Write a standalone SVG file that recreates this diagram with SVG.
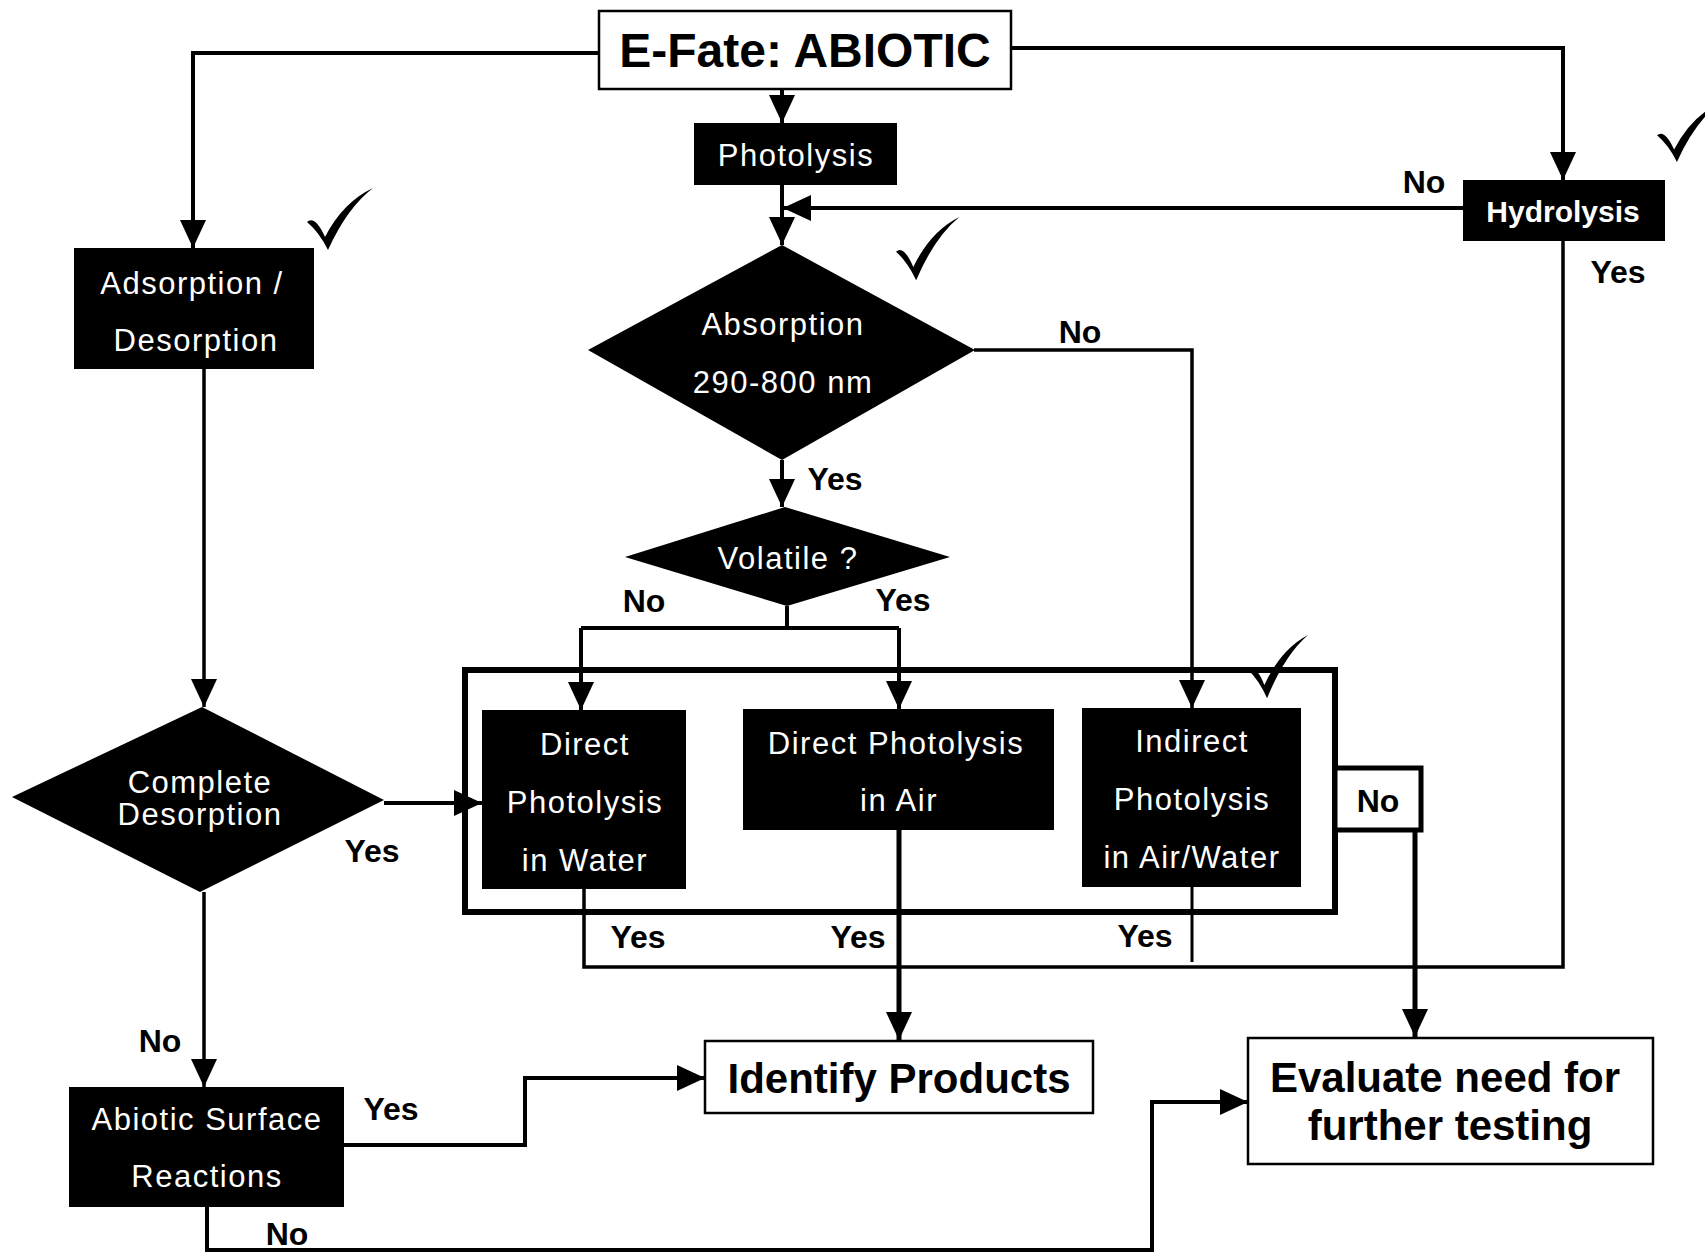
<svg xmlns="http://www.w3.org/2000/svg" xmlns:xlink="http://www.w3.org/1999/xlink" width="1705" height="1254" viewBox="0 0 1705 1254">
<style>
.w{font-family:"Liberation Sans",Arial,sans-serif;font-size:31px;fill:#fff;text-anchor:middle;letter-spacing:1.5px}
.wb{font-family:"Liberation Sans",Arial,sans-serif;font-size:30px;font-weight:bold;fill:#fff;text-anchor:middle}
.lbl{font-family:"Liberation Sans",Arial,sans-serif;font-size:32px;font-weight:bold;fill:#000;text-anchor:middle}
.big{font-family:"Liberation Sans",Arial,sans-serif;font-size:48px;font-weight:bold;fill:#000;text-anchor:middle}
.big2{font-family:"Liberation Sans",Arial,sans-serif;font-size:42px;font-weight:bold;fill:#000;text-anchor:middle}
.blk{fill:#000}
.wbox{fill:#fff;stroke:#000;stroke-width:2.5}
</style>
<defs>
<marker id="ah" markerUnits="userSpaceOnUse" markerWidth="28" markerHeight="26" refX="28" refY="13" orient="auto">
<path d="M0,0 L28,13 L0,26 Z" fill="#000"/>
</marker>
<path id="check" d="M0,34 Q8,27 18,49 Q36,14 66,0 Q40,20 21,62 Q12,44 0,34 Z" fill="#000"/>
</defs>
<rect width="1705" height="1254" fill="#fff"/>

<g id="connectors" fill="none" stroke="#000" stroke-width="4">
<path d="M599,53 H193 V248" marker-end="url(#ah)"/>
<path d="M1011,48 H1563 V180" marker-end="url(#ah)"/>
<path d="M782,89 V123" marker-end="url(#ah)"/>
<path d="M782,185 V245" marker-end="url(#ah)"/>
<path d="M1463,208 H783" marker-end="url(#ah)"/>
<path d="M974,350 H1192 V708" marker-end="url(#ah)" stroke-width="3.5"/>
<path d="M782,460 V507" marker-end="url(#ah)"/>
<path d="M787,606 V628"/>
<path d="M581,628 H899"/>
<path d="M581,628 V710" marker-end="url(#ah)"/>
<path d="M899,628 V709" marker-end="url(#ah)"/>
<path d="M204,369 V707" marker-end="url(#ah)" stroke-width="3.5"/>
<path d="M384,803 H482" marker-end="url(#ah)"/>
<path d="M204,892 V1087" marker-end="url(#ah)" stroke-width="3.5"/>
<path d="M344,1145 H525 V1078 H705" marker-end="url(#ah)"/>
<path d="M207,1207 V1250 H1152 V1102 H1248" marker-end="url(#ah)"/>
<path d="M899,830 V1040" marker-end="url(#ah)" stroke-width="5"/>
<path d="M1192,887 V962" stroke-width="3"/>
<path d="M584,889 V967 H1563 V241" stroke-width="3.5"/>
<path d="M1415,830 V1037" marker-end="url(#ah)" stroke-width="5"/>
</g>

<g id="efate">
<rect class="wbox" x="599" y="11" width="412" height="78"/>
<text class="big" x="805" y="67">E-Fate: ABIOTIC</text>
</g>
<g id="photolysis">
<rect class="blk" x="694" y="123" width="203" height="62"/>
<text class="w" x="796" y="166">Photolysis</text>
</g>
<g id="hydrolysis">
<rect class="blk" x="1463" y="180" width="202" height="61"/>
<text class="wb" x="1563" y="222">Hydrolysis</text>
</g>
<g id="adsorption">
<rect class="blk" x="74" y="248" width="240" height="121"/>
<text class="w" x="192" y="294">Adsorption /</text>
<text class="w" x="196" y="351">Desorption</text>
</g>
<g id="absorption">
<polygon class="blk" points="782,245 975,350 782,460 588,350"/>
<text class="w" x="783" y="335">Absorption</text>
<text class="w" x="783" y="393">290-800 nm</text>
</g>
<g id="volatile">
<polygon class="blk" points="785,507 950,557 787,606 625,557"/>
<text class="w" x="788" y="569">Volatile ?</text>
</g>
<g id="photolysis-group">
<rect x="465" y="670" width="870" height="242" fill="none" stroke="#000" stroke-width="6"/>
</g>
<g id="direct-water">
<rect class="blk" x="482" y="710" width="204" height="179"/>
<text class="w" x="585" y="755">Direct</text>
<text class="w" x="585" y="813">Photolysis</text>
<text class="w" x="585" y="871">in Water</text>
</g>
<g id="direct-air">
<rect class="blk" x="743" y="709" width="311" height="121"/>
<text class="w" x="896" y="754">Direct Photolysis</text>
<text class="w" x="899" y="811">in Air</text>
</g>
<g id="indirect">
<rect class="blk" x="1082" y="708" width="219" height="179"/>
<text class="w" x="1192" y="752">Indirect</text>
<text class="w" x="1192" y="810">Photolysis</text>
<text class="w" x="1192" y="868">in Air/Water</text>
</g>
<g id="no-box">
<rect x="1335" y="768" width="86" height="62" fill="#fff" stroke="#000" stroke-width="5"/>
<text class="lbl" x="1378" y="812">No</text>
</g>
<g id="complete">
<polygon class="blk" points="202,707 384,800 200,892 12,797"/>
<text class="w" x="200" y="793">Complete</text>
<text class="w" x="200" y="825">Desorption</text>
</g>
<g id="abiotic">
<rect class="blk" x="69" y="1087" width="275" height="120"/>
<text class="w" x="207" y="1130">Abiotic Surface</text>
<text class="w" x="207" y="1187">Reactions</text>
</g>
<g id="identify">
<rect class="wbox" x="705" y="1041" width="388" height="72"/>
<text class="big2" x="899" y="1093">Identify Products</text>
</g>
<g id="evaluate">
<rect class="wbox" x="1248" y="1038" width="405" height="126"/>
<text class="big2" x="1445" y="1092">Evaluate need for</text>
<text class="big2" x="1450" y="1140">further testing</text>
</g>

<g id="labels">
<text class="lbl" x="1424" y="193">No</text>
<text class="lbl" x="1618" y="283">Yes</text>
<text class="lbl" x="1080" y="343">No</text>
<text class="lbl" x="835" y="490">Yes</text>
<text class="lbl" x="644" y="612">No</text>
<text class="lbl" x="903" y="611">Yes</text>
<text class="lbl" x="372" y="862">Yes</text>
<text class="lbl" x="638" y="948">Yes</text>
<text class="lbl" x="858" y="948">Yes</text>
<text class="lbl" x="1145" y="947">Yes</text>
<text class="lbl" x="160" y="1052">No</text>
<text class="lbl" x="391" y="1120">Yes</text>
<text class="lbl" x="287" y="1245">No</text>
</g>

<g id="checks">
<use xlink:href="#check" transform="translate(307,188)"/>
<use xlink:href="#check" transform="translate(896,217) scale(0.96,1.02)"/>
<use xlink:href="#check" transform="translate(1657,103) scale(0.95)"/>
<use xlink:href="#check" transform="translate(1248,635) scale(0.91,1.02)"/>
</g>
</svg>
